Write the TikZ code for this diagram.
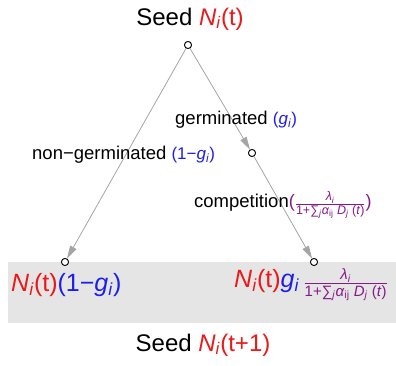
\documentclass[tikz,border=0pt]{standalone}
\usepackage{fontspec}
\setmainfont{Liberation Sans}
\usepackage{amsmath}
\usetikzlibrary{arrows.meta}
\definecolor{myred}{RGB}{235,25,25}
\definecolor{myblue}{RGB}{30,30,235}
\definecolor{mypurple}{RGB}{135,25,135}
\definecolor{linegray}{RGB}{165,165,165}
\definecolor{boxgray}{RGB}{229,229,229}
\newcommand{\sbs}[1]{\textsubscript{#1}}
\newcommand{\Ni}{\textit{N}\sbs{\textit{i}}}
\newcommand{\myfrac}[3]{$\genfrac{}{}{#1}{}{\hbox{#2}}{\hbox{#3}}$}
\newcommand{\compfrac}{\myfrac{0.7pt}{\textit{λ}\sbs{\textit{i}}}{1+∑\sbs{\textit{j}}\textit{α}\sbs{ij} \textit{D}\sbs{\textit{j}} (\textit{t})}}
\begin{document}
\begin{tikzpicture}[x=1pt,y=1pt,
  dot/.style={circle,draw=black,fill=white,inner sep=0pt,minimum size=7pt,line width=0.8pt},
  lbl/.style={inner sep=0pt,anchor=west},
  conn/.style={draw=linegray,line width=0.8pt,-{Triangle[length=13pt,width=7pt,fill=linegray]}}]
\useasboundingbox (0,0) rectangle (396,366);
\fill[boxgray] (8,43) rectangle (396,104);
\node[dot] (T) at (188,321) {};
\node[dot] (M) at (252,213) {};
\node[dot] (BL) at (65,104) {};
\node[dot] (BR) at (314,104) {};
\draw[conn] (T) -- (BL);
\draw[conn] (T) -- (M);
\draw[conn] (M) -- (BR);
\node[dot] at (T) {};
\node[dot] at (M) {};
\node[dot] at (BL) {};
\node[dot] at (BR) {};
\node[inner sep=0pt] (seedtop) at (190,347) {\fontsize{24}{28}\selectfont Seed \textcolor{myred}{\Ni(t)}};
\node[lbl] (germ) at (175,246) {\fontsize{18.5}{22}\selectfont germinated \textcolor{myblue}{\fontsize{17}{20}\selectfont(\textit{g}\sbs{\textit{i}})}};
\node[lbl] (nongerm) at (32,211) {\fontsize{18.5}{22}\selectfont non−germinated \textcolor{myblue}{\fontsize{17}{20}\selectfont(1−\textit{g}\sbs{\textit{i}})}};
\node[lbl] (comp) at (194,161) {\fontsize{18.5}{22}\selectfont competition\textcolor{mypurple}{\fontsize{18}{20}\selectfont(\fontsize{12.5}{15}\selectfont\compfrac\fontsize{18}{20}\selectfont)}};
\node[lbl] (outl) at (11,81) {\fontsize{25}{30}\selectfont\textcolor{myred}{\Ni(t)}\textcolor{myblue}{(1−\textit{g}\sbs{\textit{i}})}};
\node[lbl] (outr) at (234,81) {\fontsize{25}{30}\selectfont\textcolor{myred}{\Ni(t)}\textcolor{myblue}{\textit{g}\sbs{\textit{i}}}\,\textcolor{mypurple}{\fontsize{15}{18}\selectfont\myfrac{1pt}{\textit{λ}\sbs{\textit{i}}}{1+∑\sbs{\textit{j}}\textit{α}\sbs{ij} \textit{D}\sbs{\textit{j}} (\textit{t})}}};
\node[inner sep=0pt] (seedbot) at (203,21) {\fontsize{24}{28}\selectfont Seed \textcolor{myred}{\Ni(t+1)}};
\end{tikzpicture}
\end{document}
